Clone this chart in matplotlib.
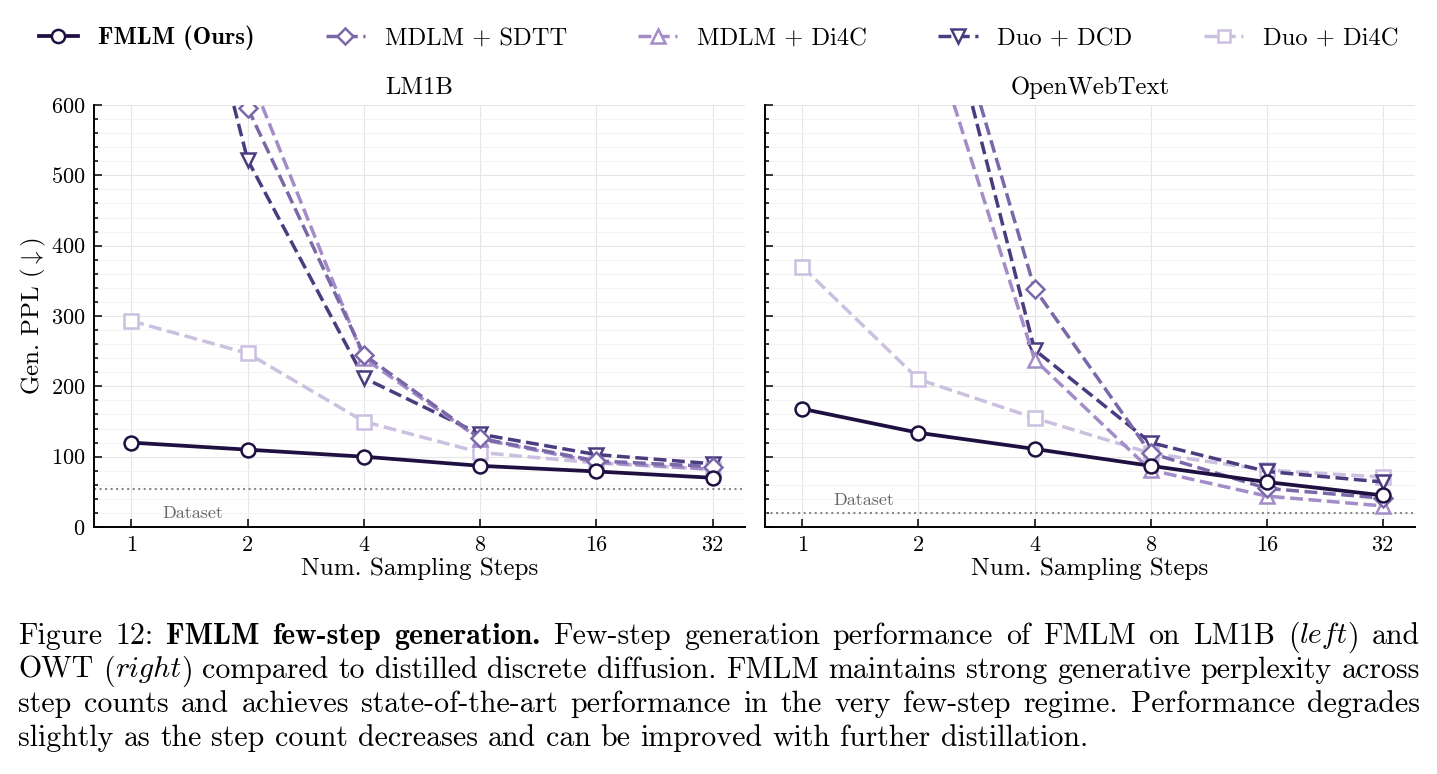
import matplotlib
matplotlib.use('Agg')
import matplotlib.pyplot as plt
from matplotlib.ticker import FixedLocator, MultipleLocator, NullLocator, FixedFormatter
from matplotlib.lines import Line2D

plt.rcParams['font.family'] = ['cmr10']
plt.rcParams['mathtext.fontset'] = 'cm'
plt.rcParams['axes.formatter.use_mathtext'] = True

steps = [1, 2, 4, 8, 16, 32]
step_labels = ['1', '2', '4', '8', '16', '32']

# LM1B (values above 600 are off the top of the axes)
lm1b_fmlm = [120, 110, 100, 87, 79, 70]
lm1b_mdlm_sdtt = [1800, 596, 245, 126, 94, 86]
lm1b_mdlm_di4c = [2400, 650, 240, 125, 92, 82]
lm1b_duo_dcd = [1170, 522, 212, 132, 103, 90]
lm1b_duo_di4c = [293, 247, 150, 106, 91, 82]
lm1b_dataset = 54

# OpenWebText
owt_fmlm = [168, 134, 111, 87, 64, 45]
owt_mdlm_sdtt = [1500, 900, 339, 105, 55, 41]
owt_mdlm_di4c = [1300, 760, 238, 81, 44, 30]
owt_duo_dcd = [1600, 900, 252, 120, 79, 64]
owt_duo_di4c = [370, 210, 155, 105, 81, 71]
owt_dataset = 20

names = ['FMLM (Ours)', 'MDLM + SDTT', 'MDLM + Di4C', 'Duo + DCD', 'Duo + Di4C']
colors = ['#1e1040', '#7a68a8', '#a48cc8', '#4b3c80', '#cbc0e0']
markers = ['o', 'D', '^', 'v', 's']
msizes = [10, 9, 10, 10, 9.5]

fig = plt.figure(figsize=(14.37, 7.74), dpi=100)
ax1 = fig.add_axes([0.0654, 0.3191, 0.4530, 0.5452])
ax2 = fig.add_axes([0.5324, 0.3191, 0.4523, 0.5452])

def draw(ax, series, dataset, title, ds_y):
    for i, vals in enumerate(series):
        ls = '-' if i == 0 else '--'
        lw = 2.7 if i == 0 else 2.5
        ax.plot(steps, vals, ls=ls, lw=lw, color=colors[i], marker=markers[i],
                ms=msizes[i], mfc='white', mec=colors[i], mew=1.8,
                zorder=10 if i == 0 else 5 - i * 0.1)
    ax.axhline(dataset, color='#888888', ls=':', lw=1.5, zorder=2)
    ax.text(1.44, ds_y, 'Dataset', ha='center', va='center', fontsize=13, color='#666666')
    ax.set_xscale('log', base=2)
    ax.set_xlim(0.8, 38.8)
    ax.set_ylim(0, 600)
    ax.xaxis.set_major_locator(FixedLocator(steps))
    ax.xaxis.set_major_formatter(FixedFormatter(step_labels))
    ax.xaxis.set_minor_locator(NullLocator())
    ax.yaxis.set_major_locator(MultipleLocator(100))
    ax.yaxis.set_minor_locator(MultipleLocator(20))
    ax.tick_params(which='both', direction='in', labelsize=16, width=1.1)
    ax.tick_params(which='major', length=6, pad=6)
    ax.tick_params(which='minor', length=3)
    ax.grid(True, which='major', color='#e6e6e6', lw=0.8)
    ax.grid(True, which='minor', axis='y', color='#f3f3f3', lw=0.7)
    ax.set_axisbelow(True)
    for s in ['top', 'right']:
        ax.spines[s].set_visible(False)
    for s in ['left', 'bottom']:
        ax.spines[s].set_linewidth(1.4)
    ax.set_title(title, fontsize=17.8, pad=8)
    ax.set_xlabel('Num. Sampling Steps', fontsize=18, labelpad=2)

draw(ax1, [lm1b_fmlm, lm1b_mdlm_sdtt, lm1b_mdlm_di4c, lm1b_duo_dcd, lm1b_duo_di4c],
     lm1b_dataset, 'LM1B', 20)
draw(ax2, [owt_fmlm, owt_mdlm_sdtt, owt_mdlm_di4c, owt_duo_dcd, owt_duo_di4c],
     owt_dataset, 'OpenWebText', 38)
ax1.set_ylabel(r'Gen. PPL ($\downarrow$)', fontsize=18, labelpad=2)
ax2.tick_params(labelleft=False)

handles = []
for i in range(5):
    handles.append(Line2D([], [], ls='-' if i == 0 else '--', lw=2.7 if i == 0 else 2.5,
                          color=colors[i], marker=markers[i], ms=msizes[i] - 0.5,
                          mfc='white', mec=colors[i], mew=1.8))
leg = fig.legend(handles, names, loc='center', bbox_to_anchor=(0.5, 0.951), ncol=5,
                 frameon=False, fontsize=17.7, handlelength=1.6, handletextpad=0.8,
                 columnspacing=2.9)
leg.get_texts()[0].set_fontfamily('cmb10')

# caption, justified word by word
R, B, I = 'cmr10', 'cmb10', 'cmmi10'
caption = [
    [[('Figure', R)], [('12:', R)], [('FMLM', B)], [('few-step', B)], [('generation.', B)],
     [('Few-step', R)], [('generation', R)], [('performance', R)], [('of', R)], [('FMLM', R)],
     [('on', R)], [('LM1B', R)], [('(', R), ('left', I), (')', R)], [('and', R)]],
    [[('OWT', R)], [('(', R), ('right', I), (')', R)], [('compared', R)], [('to', R)],
     [('distilled', R)], [('discrete', R)], [('diffusion.', R)], [('FMLM', R)], [('maintains', R)],
     [('strong', R)], [('generative', R)], [('perplexity', R)], [('across', R)]],
    [[(w, R)] for w in 'step counts and achieves state-of-the-art performance in the very few-step regime. Performance degrades'.split()],
    [[(w, R)] for w in 'slightly as the step count decreases and can be improved with further distillation.'.split()],
]
cap_fs = 21.5
x_left, x_right = 18, 1420
y0, dy = 633, 34
W, H = fig.get_size_inches() * fig.dpi
renderer = fig.canvas.get_renderer()

def seg_width(txt, fam):
    t = fig.text(0, 0, txt, fontsize=cap_fs, family=fam)
    w = t.get_window_extent(renderer).width
    t.remove()
    return w

space = seg_width('a b', R) - seg_width('ab', R)
for li, line in enumerate(caption):
    widths = [[seg_width(s, f) for s, f in word] for word in line]
    total = sum(sum(w) for w in widths)
    if li < len(caption) - 1:
        gap = (x_right - x_left - total) / (len(line) - 1)
    else:
        gap = space
    x = x_left
    for word, ws in zip(line, widths):
        for (s, f), w in zip(word, ws):
            fig.text(x / W, 1 - (y0 + li * dy) / H, s, fontsize=cap_fs, family=f,
                     ha='left', va='center_baseline')
            x += w
        x += gap

fig.savefig('out.png', dpi=100)
